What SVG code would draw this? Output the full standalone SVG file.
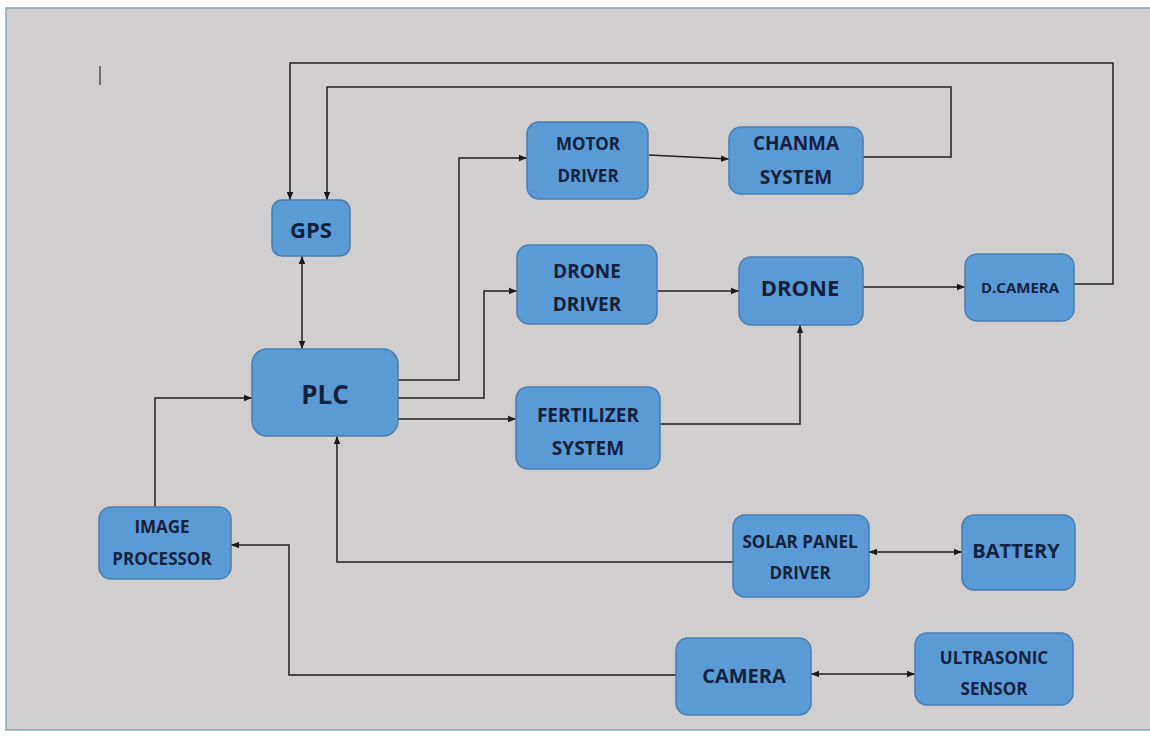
<svg xmlns="http://www.w3.org/2000/svg" width="1150" height="738" viewBox="0 0 1150 738">
<defs>
<marker id="ah" viewBox="0 0 10 10" refX="10" refY="5" markerWidth="8" markerHeight="8" markerUnits="userSpaceOnUse" orient="auto-start-reverse">
<path d="M0,1 L10,5 L0,9 z" fill="#1a1a1a"/>
</marker>
<style>
.box{fill:#5b9bd5;stroke:#4a7eb0;stroke-width:1.5}
.t{font-family:"Open Sans","Liberation Sans",sans-serif;font-weight:bold;fill:#14213d;text-anchor:middle;dominant-baseline:central}
.c{fill:none;stroke:#1f1f1f;stroke-width:1.5}
.a{marker-end:url(#ah)}
.b{marker-start:url(#ah);marker-end:url(#ah)}
</style>
</defs>
<rect x="0" y="0" width="1150" height="738" fill="#ffffff"/>
<rect x="6" y="8" width="1150" height="722" fill="#d0cecf" stroke="#8aa4b4" stroke-width="1.5"/>
<line x1="100" y1="66" x2="100" y2="85" stroke="#707070" stroke-width="2"/>

<g id="connectors">
<polyline class="c a" points="1074,284 1113,284 1113,63 290,63 290,200"/>
<polyline class="c a" points="863,157 951,157 951,87 327,87 327,200"/>
<line class="c b" x1="302" y1="256" x2="302" y2="349"/>
<polyline class="c a" points="398,380 459,380 459,158 527,158"/>
<polyline class="c a" points="398,398 484,398 484,291 517,291"/>
<line class="c a" x1="398" y1="419" x2="516" y2="419"/>
<line class="c a" x1="649" y1="155" x2="729" y2="159"/>
<line class="c a" x1="657" y1="291" x2="739" y2="291"/>
<line class="c a" x1="863" y1="287" x2="965" y2="287"/>
<polyline class="c a" points="660,424 800,424 800,325"/>
<polyline class="c a" points="155,507 155,398 252,398"/>
<polyline class="c a" points="733,562 337,562 337,436"/>
<line class="c b" x1="869" y1="552" x2="962" y2="552"/>
<polyline class="c a" points="676,675 289,675 289,545 231,545"/>
<line class="c b" x1="811" y1="674" x2="915" y2="674"/>
</g>

<g id="gps"><rect class="box" x="272" y="200" width="78" height="56" rx="10"/><text class="t" x="311" y="229" font-size="22">GPS</text></g>
<g id="plc"><rect class="box" x="252" y="349" width="146" height="87" rx="15"/><text class="t" x="325" y="394" font-size="26">PLC</text></g>
<g id="motor-driver"><rect class="box" x="527" y="122" width="121" height="77" rx="12"/><text class="t" x="588" y="143" font-size="17">MOTOR</text><text class="t" x="588" y="175" font-size="17">DRIVER</text></g>
<g id="chanma-system"><rect class="box" x="729" y="127" width="134" height="67" rx="12"/><text class="t" x="796" y="143" font-size="19">CHANMA</text><text class="t" x="796" y="177" font-size="19">SYSTEM</text></g>
<g id="drone-driver"><rect class="box" x="517" y="245" width="140" height="79" rx="12"/><text class="t" x="587" y="271" font-size="19">DRONE</text><text class="t" x="587" y="304" font-size="19">DRIVER</text></g>
<g id="fertilizer-system"><rect class="box" x="516" y="387" width="144" height="82" rx="12"/><text class="t" x="588" y="415" font-size="19">FERTILIZER</text><text class="t" x="588" y="448" font-size="19">SYSTEM</text></g>
<g id="drone"><rect class="box" x="739" y="257" width="124" height="68" rx="12"/><text class="t" x="800" y="287" font-size="22">DRONE</text></g>
<g id="d-camera"><rect class="box" x="965" y="254" width="109" height="67" rx="12"/><text class="t" x="1020" y="287" font-size="15">D.CAMERA</text></g>
<g id="image-processor"><rect class="box" x="99" y="507" width="132" height="72" rx="12"/><text class="t" x="162" y="526" font-size="17">IMAGE</text><text class="t" x="162" y="558" font-size="17">PROCESSOR</text></g>
<g id="solar-panel-driver"><rect class="box" x="733" y="515" width="136" height="82" rx="12"/><text class="t" x="800" y="541" font-size="17">SOLAR PANEL</text><text class="t" x="800" y="572" font-size="17">DRIVER</text></g>
<g id="battery"><rect class="box" x="962" y="515" width="113" height="75" rx="12"/><text class="t" x="1016" y="550" font-size="20">BATTERY</text></g>
<g id="camera"><rect class="box" x="676" y="638" width="135" height="77" rx="12"/><text class="t" x="744" y="675" font-size="20">CAMERA</text></g>
<g id="ultrasonic-sensor"><rect class="box" x="915" y="633" width="158" height="72" rx="12"/><text class="t" x="994" y="657" font-size="17">ULTRASONIC</text><text class="t" x="994" y="688" font-size="17">SENSOR</text></g>
</svg>
